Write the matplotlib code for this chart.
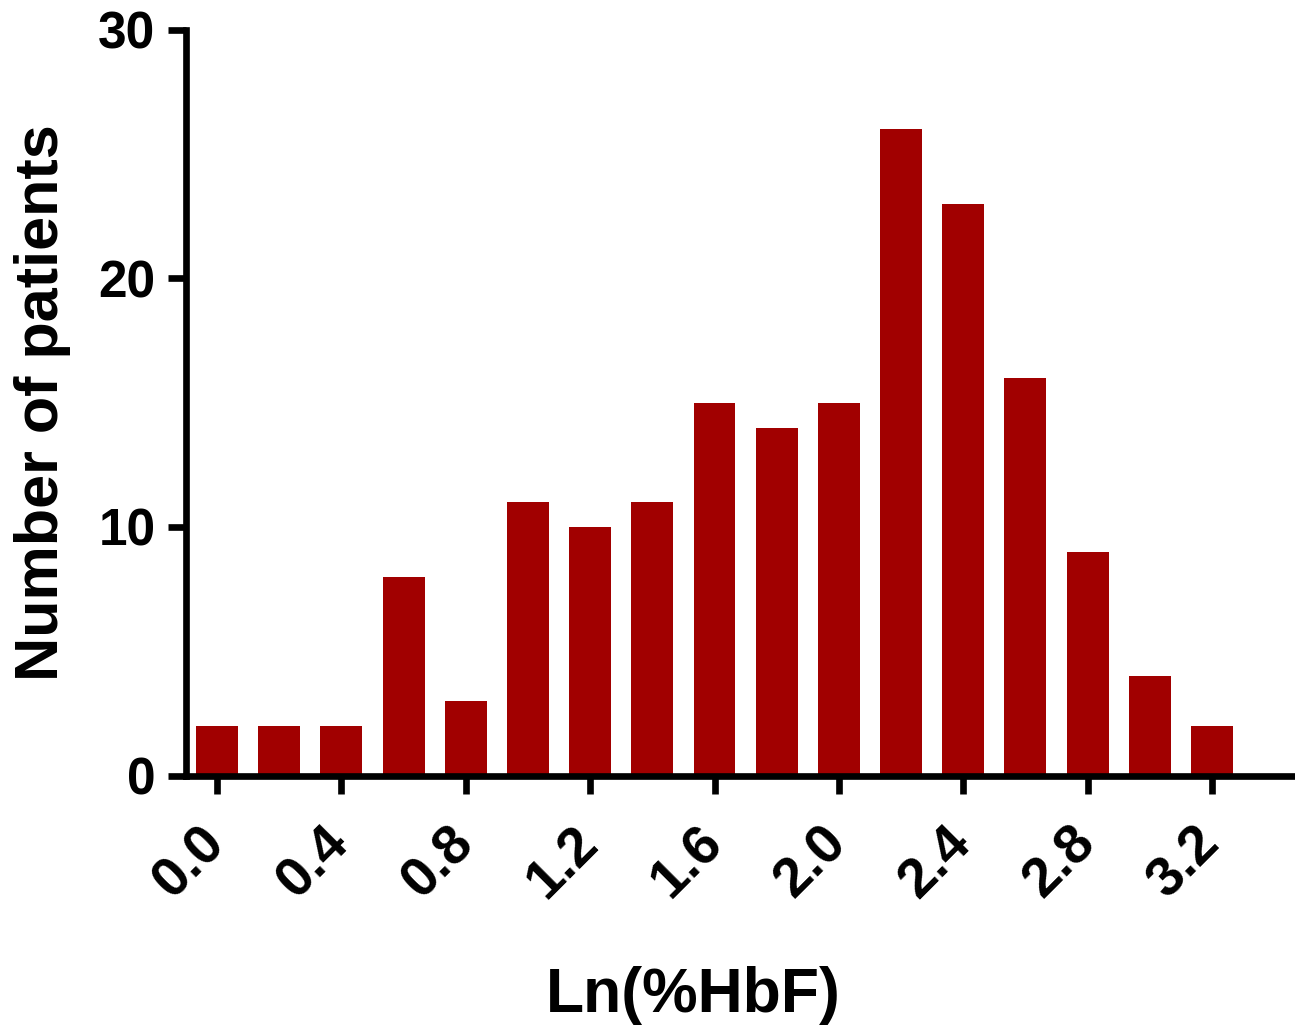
import matplotlib.pyplot as plt
import numpy as np

plt.rcParams['font.family'] = ['Liberation Sans', 'DejaVu Sans']
plt.rcParams['font.weight'] = 'bold'

# bin centers of Ln(%HbF) and patient counts
bin_centers = [0.0, 0.2, 0.4, 0.6, 0.8, 1.0, 1.2, 1.4, 1.6, 1.8, 2.0,
               2.2, 2.4, 2.6, 2.8, 3.0, 3.2]
counts = [2, 2, 2, 8, 3, 11, 10, 11, 15, 14, 15, 26, 23, 16, 9, 4, 2]
x_ticks = [0.0, 0.4, 0.8, 1.2, 1.6, 2.0, 2.4, 2.8, 3.2]
y_ticks = [0, 10, 20, 30]

if __name__ == "__main__":
    fig = plt.figure(figsize=(12.95, 10.26), dpi=100)
    ax = fig.add_axes([186 / 1295, (1026 - 775.5) / 1026,
                       1 - 186 / 1295, 745.5 / 1026])

    ax.bar(bin_centers, counts, width=0.135, color='#A10000')

    ax.set_xlim(-0.1, (1295 - 216.7) / 311)
    ax.set_ylim(0, 30)

    for side in ['top', 'right']:
        ax.spines[side].set_visible(False)
    for side in ['left', 'bottom']:
        ax.spines[side].set_linewidth(4.8)

    ax.set_yticks(y_ticks)
    ax.set_xticks(x_ticks)
    ax.set_xticklabels([f'{v:.1f}' for v in x_ticks], rotation=45,
                       ha='right', va='center', rotation_mode='anchor')
    ax.tick_params(axis='y', length=13, width=4.8, labelsize=37, pad=9)
    ax.tick_params(axis='x', length=13, width=4.8, labelsize=40, pad=30)

    ax.set_xlabel('Ln(%HbF)', fontsize=45, fontweight='bold')
    ax.set_ylabel('Number of patients', fontsize=44, fontweight='bold')
    ax.xaxis.set_label_coords(0.457, -0.256)
    ax.yaxis.set_label_coords(-0.1035, 0.5)

    fig.savefig('out.png', dpi=100)
